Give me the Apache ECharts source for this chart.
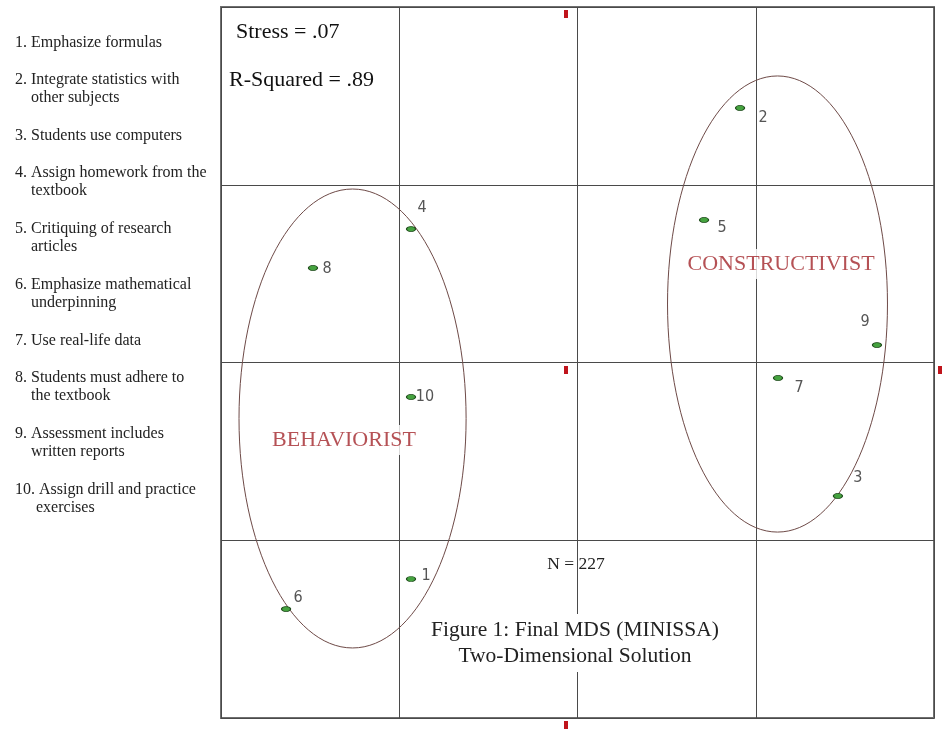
<!DOCTYPE html>
<html>
<head>
<meta charset="utf-8">
<script src="https://cdn.jsdelivr.net/npm/echarts@6/dist/echarts.min.js"></script>
<style>
  html, body { margin: 0; padding: 0; background: #fff; }
  #chart { width: 943px; height: 731px; }
</style>
</head>
<body>
<div id="chart"></div>
<script>
// ===== datos =====
const ITEM_LINES = [
  ['1. Emphasize formulas'],
  ['2. Integrate statistics with', 'other subjects'],
  ['3. Students use computers'],
  ['4. Assign homework from the', 'textbook'],
  ['5. Critiquing of research', 'articles'],
  ['6. Emphasize mathematical', 'underpinning'],
  ['7. Use real-life data'],
  ['8. Students must adhere to', 'the textbook'],
  ['9. Assessment includes', 'written reports'],
  ['10. Assign drill and practice', 'exercises'],
];
const POINT_IDS = ['1', '2', '3', '4', '5', '6', '7', '8', '9', '10'];
const POINT_X = [-0.934, 0.912, 1.461, -0.934, 0.710, -1.635, 1.125, -1.484, 1.680, -0.934];
const POINT_Y = [-1.218, 1.432, -0.751, 0.751, 0.802, -1.387, -0.087, 0.532, 0.098, -0.194];

const GROUPS = ['BEHAVIORIST', 'CONSTRUCTIVIST'];
const GROUP_CX = [-1.262, 1.122];
const GROUP_CY = [-0.315, 0.329];
const GROUP_RX = [0.637, 0.617];
const GROUP_RY = [1.291, 1.283];
const GROUP_LABEL_X = [-1.310, 1.142];
const GROUP_LABEL_Y = [-0.436, 0.554];

const STRESS = 'Stress = .07';
const RSQ = 'R-Squared = .89';
const N_TEXT = 'N = 227';
const CAPTION = ['Figure 1: Final MDS (MINISSA)', 'Two-Dimensional Solution'];

// ---- estilo (no datos) ----
const LABEL_OFFSET = [[15, -3], [23, 10], [20, -18], [11, -21], [18, 8], [12, -11], [21, 10], [14, 1], [-12, -23], [14, 0]];
const SERIF = "'Liberation Serif', 'DejaVu Serif', serif";
const NARROW = "'Liberation Sans Narrow', 'DejaVu Sans Condensed', sans-serif";

const chart = echarts.init(document.getElementById('chart'), null, { renderer: 'canvas' });

// ---- textos de la izquierda ----
const graphics = [];
let y = 43;
ITEM_LINES.forEach((lines, i) => {
  lines.forEach((t, j) => {
    graphics.push({
      type: 'text', x: j === 0 ? 15 : (i === 9 ? 36 : 31), y: y + j * 18, z: 100,
      style: { text: t, font: `16px ${SERIF}`, fill: '#222', verticalAlign: 'middle' },
    });
  });
  y += lines.length === 1 ? 37 : 56;
});
graphics.push(
  { type: 'text', x: 236, y: 32, z: 100, style: { text: STRESS, font: `22px ${SERIF}`, fill: '#111', verticalAlign: 'middle' } },
  { type: 'text', x: 229, y: 80, z: 100, style: { text: RSQ, font: `22px ${SERIF}`, fill: '#111', verticalAlign: 'middle' } },
  { type: 'text', x: 576, y: 564, z: 100, style: { text: N_TEXT, font: `17.5px ${SERIF}`, fill: '#222', align: 'center', verticalAlign: 'middle' } },
  { type: 'text', x: 575, y: 643, z: 100, style: {
      text: CAPTION.join('\n'), font: `21.5px ${SERIF}`, fill: '#222', align: 'center', verticalAlign: 'middle',
      lineHeight: 26, backgroundColor: '#fff', padding: [3, 2] } },
  // marcas rojas del marco
  { type: 'rect', shape: { x: 564, y: 10, width: 4, height: 8 }, z: 100, style: { fill: '#c0141c' } },
  { type: 'rect', shape: { x: 564, y: 366, width: 4, height: 8 }, z: 100, style: { fill: '#c0141c' } },
  { type: 'rect', shape: { x: 938, y: 366, width: 4, height: 8 }, z: 100, style: { fill: '#c0141c' } },
  { type: 'rect', shape: { x: 564, y: 721, width: 4, height: 8 }, z: 100, style: { fill: '#c0141c' } },
);

const axisBase = {
  type: 'value', min: -2, max: 2, interval: 1,
  axisLine: { show: false }, axisTick: { show: false }, axisLabel: { show: false },
  splitLine: { show: true, lineStyle: { color: '#4a4a4a', width: 1 } },
};

chart.setOption({
  animation: false,
  backgroundColor: '#fff',
  grid: { left: 221, top: 7, width: 713, height: 711, show: true, borderColor: '#6f6f6f', borderWidth: 2, backgroundColor: 'transparent' },
  xAxis: axisBase,
  yAxis: axisBase,
  graphic: graphics,
  series: [
    {
      type: 'custom', z: 3,
      data: GROUPS.map((g, i) => [GROUP_CX[i], GROUP_CY[i], GROUP_RX[i], GROUP_RY[i]]),
      renderItem(params, api) {
        const c = api.coord([api.value(0), api.value(1)]);
        const s = api.size([api.value(2), api.value(3)]);
        return {
          type: 'ellipse',
          shape: { cx: c[0], cy: c[1], rx: s[0], ry: s[1] },
          style: { fill: 'none', stroke: '#6e4a47', lineWidth: 1 },
        };
      },
    },
    {
      type: 'scatter', z: 5, symbolSize: 0, silent: true,
      data: GROUPS.map((g, i) => ({ name: g, value: [GROUP_LABEL_X[i], GROUP_LABEL_Y[i]] })),
      label: {
        show: true, position: 'inside', formatter: '{b}',
        fontFamily: SERIF, fontSize: 22, color: '#a3262a',
        backgroundColor: '#fff', padding: [4, 2],
      },
    },
    {
      type: 'scatter', z: 6,
      symbol: 'circle', symbolSize: [9, 5],
      itemStyle: { color: '#45a33f', borderColor: '#1f4a1c', borderWidth: 1, opacity: 1 },
      data: POINT_IDS.map((id, i) => ({
        name: id, value: [POINT_X[i], POINT_Y[i]],
        label: { offset: LABEL_OFFSET[i] },
      })),
      label: {
        show: true, position: 'inside', formatter: '{b}',
        fontFamily: NARROW, fontSize: 16, color: '#555',
      },
    },
  ],
});
</script>
</body>
</html>
